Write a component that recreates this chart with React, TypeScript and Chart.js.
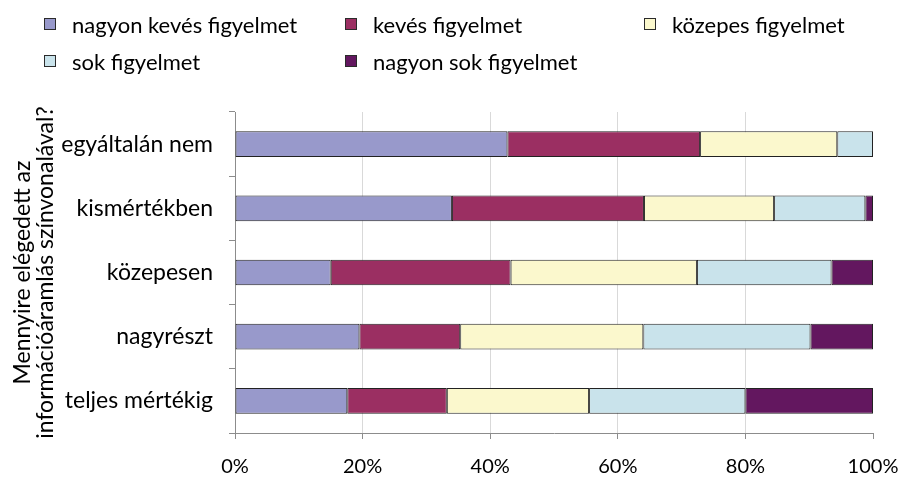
import React, { useEffect, useRef } from "react";
import { Chart, registerables } from "chart.js";

Chart.register(...registerables);

const categories = ["egyáltalán nem", "kismértékben", "közepesen", "nagyrészt", "teljes mértékig"];
const seriesNames = ["nagyon kevés figyelmet", "kevés figyelmet", "közepes figyelmet", "sok figyelmet", "nagyon sok figyelmet"];
const nagyonKeves = [42.7, 34.0, 15.0, 19.5, 17.6];
const keves = [30.2, 30.1, 28.2, 15.8, 15.6];
const kozepes = [21.5, 20.4, 29.2, 28.7, 22.3];
const sok = [5.6, 14.3, 21.1, 26.2, 24.5];
const nagyonSok = [0, 1.2, 6.5, 9.8, 20.0];
const xTicks = [0, 20, 40, 60, 80, 100];
const yTitle = ["Mennyire elégedett az", "információáramlás színvonalával?"];

const colors = ["#9899CB", "#9B2F62", "#FBF8CD", "#C9E3EB", "#63175F"];
const seriesValues = [nagyonKeves, keves, kozepes, sok, nagyonSok];

const FONT = "Lato";
const legendPos = [
  { left: 44, top: 18 },
  { left: 345, top: 18 },
  { left: 644, top: 18 },
  { left: 44, top: 55 },
  { left: 345, top: 55 },
];

export default function App() {
  const ref = useRef<HTMLCanvasElement>(null);
  useEffect(() => {
    if (!ref.current) return;
    const chart = new Chart(ref.current, {
      type: "bar",
      data: {
        labels: categories,
        datasets: seriesNames.map((n, i) => ({
          label: n,
          data: seriesValues[i],
          backgroundColor: colors[i],
          borderColor: "#222",
          borderWidth: 1,
          borderSkipped: false,
          barPercentage: 0.4,
          categoryPercentage: 1,
        })),
      },
      options: {
        indexAxis: "y",
        animation: false,
        responsive: false,
        maintainAspectRatio: false,
        layout: { padding: { top: 112, right: 28, left: 0, bottom: 0 } },
        plugins: { legend: { display: false }, tooltip: { enabled: false } },
        scales: {
          x: {
            stacked: true,
            min: 0,
            max: 100,
            afterFit: (s: any) => {
              s.height = 47;
              s.paddingLeft = 0;
              s.paddingRight = 0;
            },
            afterBuildTicks: (s: any) => {
              s.ticks = xTicks.map((v) => ({ value: v }));
            },
            ticks: {
              callback: (v: any) => v + "%",
              color: "#000",
              font: { family: FONT, size: 20 },
              padding: 16,
              maxRotation: 0,
            },
            grid: {
              color: (c: any) => (c.tick && c.tick.value === 100 ? "rgba(0,0,0,0)" : "#d9d9d9"),
              tickColor: "#8c8c8c",
              tickLength: 6,
            },
            border: { color: "#8c8c8c" },
          },
          y: {
            stacked: true,
            afterFit: (s: any) => {
              s.width = 235;
            },
            ticks: {
              color: "#000",
              font: { family: FONT, size: 23 },
              padding: 16,
            },
            grid: {
              offset: true,
              drawOnChartArea: false,
              tickColor: "#8c8c8c",
              tickLength: 6,
            },
            border: { color: "#8c8c8c" },
            title: {
              display: true,
              text: yTitle,
              color: "#000",
              font: { family: FONT, size: 23, lineHeight: 1.0 },
              padding: { top: 11, bottom: 0 },
            },
          },
        },
      },
    });
    return () => chart.destroy();
  }, []);
  return (
    <div style={{ position: "fixed", left: 0, top: 0, width: 901, height: 480, background: "#fff" }}>
      <canvas ref={ref} width={901} height={480} style={{ position: "absolute", left: 0, top: 0 }} />
      {seriesNames.map((n, i) => (
        <div
          key={n}
          style={{
            position: "absolute",
            left: legendPos[i].left,
            top: legendPos[i].top - 6,
            height: 24,
            display: "flex",
            alignItems: "center",
            fontFamily: FONT,
            fontSize: 22,
            color: "#000",
            whiteSpace: "nowrap",
          }}
        >
          <span
            style={{
              display: "inline-block",
              width: 10,
              height: 10,
              border: "1px solid #2b2b2b",
              background: colors[i],
              marginRight: 16,
            }}
          />
          <span>{n}</span>
        </div>
      ))}
    </div>
  );
}
